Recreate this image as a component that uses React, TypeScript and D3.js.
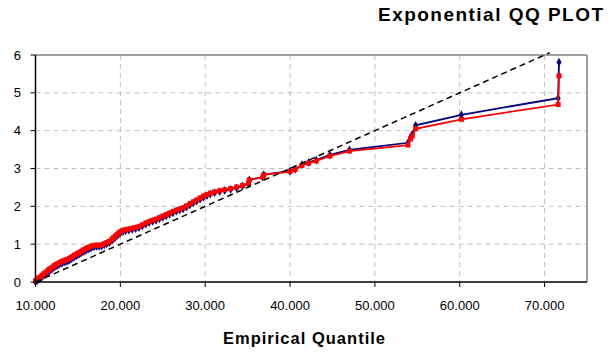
import React from 'react';
import * as d3 from 'd3';

// empirical quantiles (x) and two theoretical exponential quantile series (y)
const empirical = [
  10.0, 10.2, 10.4, 10.6, 10.8, 11.0, 11.2, 11.4, 11.6, 11.8, 12.0, 12.2, 12.4, 12.6, 12.8, 13.0, 13.2,
  13.4, 13.6, 13.8, 14.0, 14.2, 14.4, 14.6, 14.8, 15.0, 15.2, 15.4, 15.6, 15.8, 16.0, 16.2, 16.4, 16.6,
  16.9, 17.2, 17.5, 17.8, 18.1, 18.4, 18.7, 19.0, 19.2, 19.4, 19.6, 19.8, 20.0, 20.3, 20.6,
  21.0, 21.4, 21.8, 22.2, 22.6, 23.0, 23.4, 23.8, 24.2, 24.6, 25.0, 25.4, 25.8, 26.2, 26.6, 27.0, 27.4,
  27.8, 28.2, 28.6, 29.0, 29.4, 29.8, 30.2, 30.6, 31.1, 31.7, 32.3, 33.0, 33.7, 34.4, 35.1, 35.2, 36.8,
  36.9, 40.0, 40.6, 41.4, 42.2, 43.1, 44.7, 47.0, 53.9, 54.2, 54.4, 54.8, 60.2, 71.6, 71.7,
];

const blueQ = [
  0.0, 0.03, 0.07, 0.1, 0.14, 0.18, 0.21, 0.25, 0.29, 0.32, 0.35, 0.39, 0.42, 0.44, 0.47, 0.49, 0.51,
  0.53, 0.54, 0.56, 0.58, 0.61, 0.64, 0.67, 0.69, 0.72, 0.74, 0.77, 0.8, 0.82, 0.85, 0.87, 0.89, 0.91,
  0.93, 0.94, 0.94, 0.95, 0.98, 1.01, 1.04, 1.1, 1.14, 1.18, 1.22, 1.26, 1.3, 1.33, 1.35,
  1.37, 1.39, 1.41, 1.44, 1.48, 1.53, 1.57, 1.6, 1.63, 1.67, 1.71, 1.75, 1.79, 1.83, 1.87, 1.9, 1.93,
  1.98, 2.04, 2.09, 2.14, 2.19, 2.24, 2.28, 2.32, 2.36, 2.39, 2.42, 2.45, 2.49, 2.54, 2.6, 2.7, 2.77,
  2.84, 2.93, 2.98, 3.1, 3.16, 3.22, 3.36, 3.49, 3.68, 3.82, 3.9, 4.14, 4.42, 4.86, 5.81,
];

const redQ = [
  0.03, 0.07, 0.11, 0.14, 0.18, 0.22, 0.25, 0.29, 0.33, 0.36, 0.39, 0.43, 0.46, 0.48, 0.51, 0.53, 0.55,
  0.57, 0.58, 0.6, 0.62, 0.65, 0.68, 0.71, 0.73, 0.76, 0.78, 0.81, 0.84, 0.86, 0.89, 0.91, 0.93, 0.95,
  0.97, 0.97, 0.97, 0.98, 1.01, 1.04, 1.07, 1.13, 1.17, 1.21, 1.25, 1.29, 1.33, 1.36, 1.38,
  1.4, 1.42, 1.44, 1.47, 1.51, 1.56, 1.6, 1.63, 1.66, 1.7, 1.74, 1.78, 1.82, 1.86, 1.9, 1.93, 1.96,
  2.01, 2.07, 2.12, 2.17, 2.22, 2.27, 2.31, 2.35, 2.38, 2.41, 2.44, 2.47, 2.51, 2.55, 2.61, 2.7, 2.77,
  2.83, 2.92, 2.97, 3.08, 3.14, 3.2, 3.33, 3.46, 3.62, 3.78, 3.86, 4.05, 4.3, 4.69, 5.45,
];

// dashed reference line end points
const refX = [10.0, 70.6];
const refY = [0.0, 6.06];

const xTicks = [10, 20, 30, 40, 50, 60, 70];
const yTicks = [0, 1, 2, 3, 4, 5, 6];

const font = '"Liberation Sans", Arial, sans-serif';

const App = () => {
  const width = 609;
  const height = 354;
  const left = 35.5;
  const right = 587;
  const top = 55;
  const bottom = 282;

  const x = d3.scaleLinear().domain([10, 75]).range([left, right]);
  const y = d3.scaleLinear().domain([0, 6]).range([bottom, top]);
  const fmt = d3.format('.3f');

  const blueData = empirical.map((e, i) => [e, blueQ[i]] as [number, number]);
  const redData = empirical.map((e, i) => [e, redQ[i]] as [number, number]);
  const refData = refX.map((e, i) => [e, refY[i]] as [number, number]);

  const line = d3
    .line<[number, number]>()
    .x((d) => x(d[0]))
    .y((d) => y(d[1]));

  const diamond = d3.symbol().type(d3.symbolDiamond).size(22)();

  return (
    <div style={{ position: 'absolute', left: 0, top: 0 }}>
      <svg width={width} height={height} style={{ display: 'block', background: '#fff' }}>
        {/* grid */}
        {yTicks.slice(1, -1).map((t) => (
          <line key={'gy' + t} x1={left} x2={right} y1={y(t)} y2={y(t)}
            stroke="#c0c0c0" strokeWidth={1} strokeDasharray="5,4" />
        ))}
        {xTicks.slice(1).map((t) => (
          <line key={'gx' + t} x1={x(t)} x2={x(t)} y1={top} y2={bottom}
            stroke="#c0c0c0" strokeWidth={1} strokeDasharray="5,4" />
        ))}

        {/* plot frame */}
        <line x1={left} x2={right} y1={top} y2={top} stroke="#808080" strokeWidth={1.5} />
        <line x1={right} x2={right} y1={top} y2={bottom} stroke="#808080" strokeWidth={1.5} />

        {/* blue series */}
        <path d={line(blueData) || ''} fill="none" stroke="#000080" strokeWidth={1.8} />
        {blueData.map((d, i) => (
          <path key={'b' + i} d={diamond} transform={`translate(${x(d[0])},${y(d[1])})`} fill="#000080" />
        ))}

        {/* red series */}
        <path d={line(redData) || ''} fill="none" stroke="#ff0000" strokeWidth={1.8} />
        {redData.map((d, i) => (
          <rect key={'r' + i} x={x(d[0]) - 2.5} y={y(d[1]) - 2.5} width={5} height={5} fill="#ff0000" />
        ))}

        {/* reference line */}
        <path d={line(refData) || ''} fill="none" stroke="#000" strokeWidth={1.5} strokeDasharray="6,4" />

        {/* axes */}
        <line x1={left} x2={left} y1={top} y2={bottom} stroke="#000" strokeWidth={1.5} />
        <line x1={left} x2={right} y1={bottom} y2={bottom} stroke="#000" strokeWidth={1.5} />
        {yTicks.map((t) => (
          <g key={'yt' + t}>
            <line x1={left - 5} x2={left} y1={y(t)} y2={y(t)} stroke="#000" strokeWidth={1} />
            <text x={21} y={y(t) + 4.5} textAnchor="end" fontFamily={font} fontSize={13} fill="#000">
              {t}
            </text>
          </g>
        ))}
        {xTicks.map((t) => (
          <g key={'xt' + t}>
            <line x1={x(t)} x2={x(t)} y1={bottom} y2={bottom + 5} stroke="#000" strokeWidth={1} />
            <text x={x(t)} y={bottom + 28} textAnchor="middle" fontFamily={font} fontSize={13} fill="#000">
              {fmt(t)}
            </text>
          </g>
        ))}

        {/* titles */}
        <text x={378} y={21} fontFamily={font} fontSize={19} fontWeight="bold" fill="#000"
          textLength={225} lengthAdjust="spacing">
          Exponential QQ PLOT
        </text>
        <text x={223} y={344} fontFamily={font} fontSize={16.5} fontWeight="bold" fill="#000"
          textLength={162} lengthAdjust="spacing">
          Empirical Quantile
        </text>
      </svg>
    </div>
  );
};

export default App;
